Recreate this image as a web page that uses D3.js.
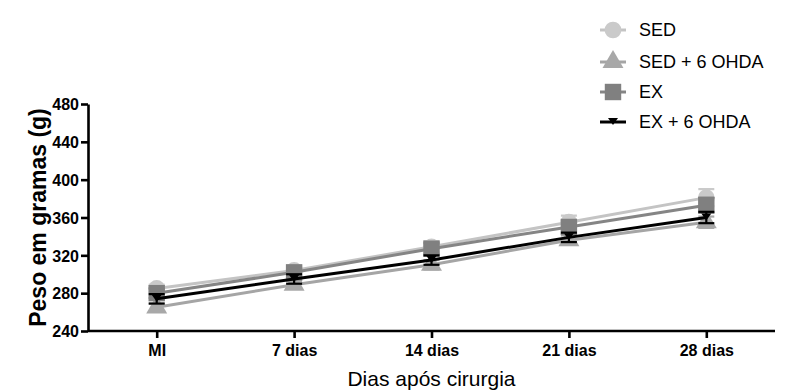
<!DOCTYPE html>
<html>
<head>
<meta charset="utf-8">
<script src="https://cdn.jsdelivr.net/npm/d3@7"></script>
<style>
  body { margin: 0; background: #fff; }
  svg { font-family: "Liberation Sans", Arial, sans-serif; }
</style>
</head>
<body>
<svg id="chart" width="809" height="392"></svg>
<script>
// data (mean weight in g, error = SEM)
const categories = ['MI', '7 dias', '14 dias', '21 dias', '28 dias'];
const seriesNames = ['SED', 'SED + 6 OHDA', 'EX', 'EX + 6 OHDA'];
const sedMean  = [285, 304, 329, 355, 381];
const sedErr   = [4, 5, 6, 7, 9];
const sed6Mean = [265, 289, 310, 336, 355];
const sed6Err  = [4, 4, 5, 5, 6];
const exMean   = [280, 302, 327, 350, 373];
const exErr    = [5, 5, 6, 7, 8];
const ex6Mean  = [274, 295, 315, 339, 360];
const ex6Err   = [5, 5, 5, 5, 6];
const yTicks = [240, 280, 320, 360, 400, 440, 480];

const series = [
  {name: seriesNames[0], mean: sedMean,  err: sedErr,  line: '#c4c4c4', fill: '#cacaca', shape: 'circle'},
  {name: seriesNames[1], mean: sed6Mean, err: sed6Err, line: '#a5a5a5', fill: '#a8a8a8', shape: 'triangle'},
  {name: seriesNames[2], mean: exMean,   err: exErr,   line: '#858585', fill: '#808080', shape: 'square'},
  {name: seriesNames[3], mean: ex6Mean,  err: ex6Err,  line: '#000000', fill: '#000000', shape: 'tridown'}
];

const svg = d3.select('#chart');
const margin = {left: 88, right: 34, top: 104, bottom: 61};
const W = 809, H = 392;

const x = d3.scalePoint().domain(categories)
  .range([margin.left, W - margin.right]).padding(0.5);
const y = d3.scaleLinear().domain([240, 480])
  .range([H - margin.bottom, margin.top]);

function symbolFor(shape) {
  switch (shape) {
    case 'circle':   return d3.symbol(d3.symbolCircle, 220)();
    case 'square':   return d3.symbol(d3.symbolSquare, 270)();
    case 'triangle': return d3.symbol(d3.symbolTriangle, 190)();
    default:         return 'M-5,-4L5,-4L0,3Z';
  }
}

// axes
const yAxis = svg.append('g')
  .attr('transform', `translate(${margin.left},0)`)
  .call(d3.axisLeft(y).tickValues(yTicks).tickSize(7).tickPadding(2).tickSizeOuter(0));
const xAxis = svg.append('g')
  .attr('transform', `translate(0,${H - margin.bottom})`)
  .call(d3.axisBottom(x).tickSize(7).tickPadding(7).tickSizeOuter(0));
xAxis.select('.domain').attr('d', `M${margin.left},0H${W - margin.right}`);

[xAxis, yAxis].forEach(a => {
  a.selectAll('.domain, line').attr('stroke', '#000').attr('stroke-width', 2.6);
  a.selectAll('text').attr('fill', '#000')
    .style('font-size', '16px').style('font-weight', 'bold')
    .style('font-family', '"Liberation Sans", Arial, sans-serif');
});
yAxis.selectAll('text').attr('dy', '0.36em');

// series
const line = d3.line().x((d, i) => x(categories[i])).y(d => y(d));

series.forEach(s => {
  const g = svg.append('g');
  g.append('path').datum(s.mean)
    .attr('d', line).attr('fill', 'none')
    .attr('stroke', s.line).attr('stroke-width', 3);

  const pts = s.mean.map((m, i) => ({c: categories[i], m: m, e: s.err[i]}));
  const eb = g.selectAll('g.err').data(pts).join('g')
    .attr('stroke', s.shape === 'tridown' ? '#000' : s.fill)
    .attr('stroke-width', 2.2);
  eb.append('line')
    .attr('x1', d => x(d.c)).attr('x2', d => x(d.c))
    .attr('y1', d => y(d.m - d.e)).attr('y2', d => y(d.m + d.e));
  eb.append('line')
    .attr('x1', d => x(d.c) - 8).attr('x2', d => x(d.c) + 8)
    .attr('y1', d => y(d.m + d.e)).attr('y2', d => y(d.m + d.e));
  eb.append('line')
    .attr('x1', d => x(d.c) - 8).attr('x2', d => x(d.c) + 8)
    .attr('y1', d => y(d.m - d.e)).attr('y2', d => y(d.m - d.e));

  g.selectAll('path.mk').data(pts).join('path')
    .attr('class', 'mk')
    .attr('d', symbolFor(s.shape))
    .attr('transform', d => `translate(${x(d.c)},${y(d.m)})`)
    .attr('fill', s.fill);
});

// legend
const legendY = [30, 62, 92, 122];
const legend = svg.append('g');
series.forEach((s, i) => {
  const lg = legend.append('g').attr('transform', `translate(613,${legendY[i]})`);
  lg.append('line').attr('x1', -13).attr('x2', 13)
    .attr('stroke', s.line).attr('stroke-width', 3);
  lg.append('path').attr('d', symbolFor(s.shape)).attr('fill', s.fill);
  lg.append('text').attr('x', 26).attr('dy', '0.36em')
    .style('font-size', '18px').attr('fill', '#000').text(s.name);
});

// axis titles
svg.append('text')
  .attr('transform', `translate(46,${(margin.top + H - margin.bottom) / 2}) rotate(-90)`)
  .attr('text-anchor', 'middle')
  .style('font-size', '23px').style('font-weight', 'bold')
  .text('Peso em gramas (g)');
svg.append('text')
  .attr('x', x('14 dias')).attr('y', 386)
  .attr('text-anchor', 'middle')
  .style('font-size', '21px')
  .text('Dias após cirurgia');
</script>
</body>
</html>
